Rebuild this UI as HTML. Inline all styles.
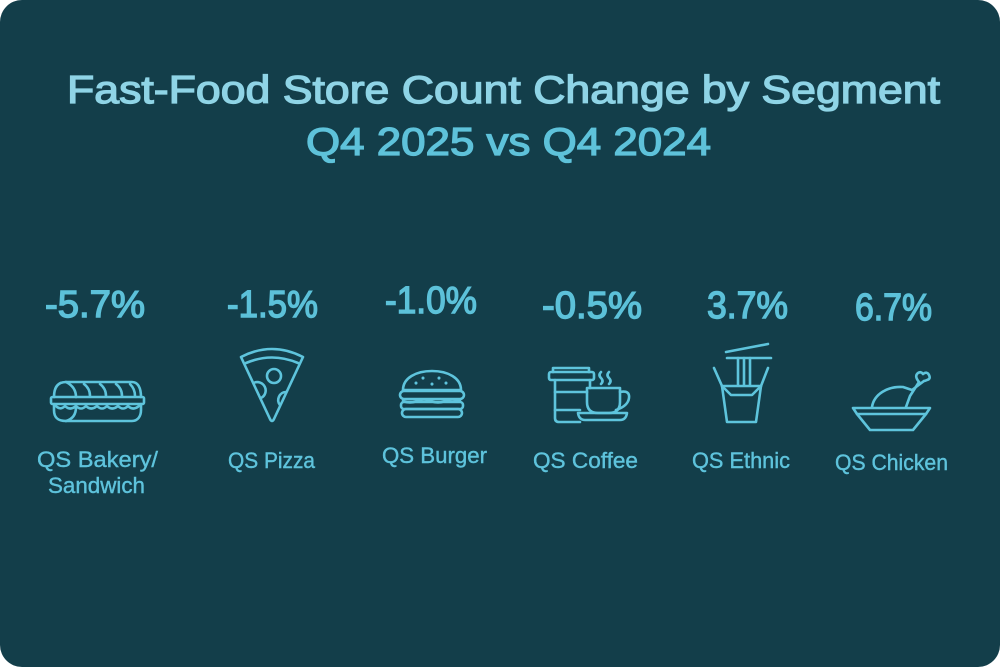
<!DOCTYPE html>
<html>
<head>
<meta charset="utf-8">
<style>
  html,body{margin:0;padding:0;background:#ffffff;}
  svg{display:block;}
  .t{font-family:"Liberation Sans",sans-serif;}
</style>
</head>
<body>
<svg width="1000" height="667" viewBox="0 0 1000 667" xmlns="http://www.w3.org/2000/svg">
  <rect x="0" y="0" width="1000" height="667" fill="#ffffff"/>
  <rect x="0" y="0" width="1000" height="667" rx="22" ry="22" fill="#133e4a"/>

  <!-- Title -->
  <text class="t" x="67" y="103" font-size="39" fill="#8fd4e6" stroke="#8fd4e6" stroke-width="1.3" textLength="873" lengthAdjust="spacingAndGlyphs">Fast-Food Store Count Change by Segment</text>
  <text class="t" x="306" y="155" font-size="39" fill="#5ec2da" stroke="#5ec2da" stroke-width="1.3" textLength="405" lengthAdjust="spacingAndGlyphs">Q4 2025 vs Q4 2024</text>

  <!-- Percentages -->
  <g class="t" font-size="38" fill="#5cc1d9" stroke="#5cc1d9" stroke-width="1.4">
    <text x="45" y="317" textLength="100" lengthAdjust="spacingAndGlyphs">-5.7%</text>
    <text x="227" y="317" textLength="91" lengthAdjust="spacingAndGlyphs">-1.5%</text>
    <text x="385" y="313" textLength="92" lengthAdjust="spacingAndGlyphs">-1.0%</text>
    <text x="542" y="318" textLength="100" lengthAdjust="spacingAndGlyphs">-0.5%</text>
    <text x="707" y="318" textLength="81" lengthAdjust="spacingAndGlyphs">3.7%</text>
    <text x="855" y="320" textLength="77" lengthAdjust="spacingAndGlyphs">6.7%</text>
  </g>

  <!-- Labels -->
  <g class="t" font-size="22" fill="#5ec3dc" stroke="#5ec3dc" stroke-width="0.4">
    <text x="37" y="467" textLength="121" lengthAdjust="spacingAndGlyphs">QS Bakery/</text>
    <text x="48" y="493" textLength="97" lengthAdjust="spacingAndGlyphs">Sandwich</text>
    <text x="228" y="468" textLength="87" lengthAdjust="spacingAndGlyphs">QS Pizza</text>
    <text x="382" y="463" textLength="105" lengthAdjust="spacingAndGlyphs">QS Burger</text>
    <text x="533" y="468" textLength="105" lengthAdjust="spacingAndGlyphs">QS Coffee</text>
    <text x="692" y="468" textLength="98" lengthAdjust="spacingAndGlyphs">QS Ethnic</text>
    <text x="835" y="470" textLength="113" lengthAdjust="spacingAndGlyphs">QS Chicken</text>
  </g>

  <!-- Icons -->
  <g fill="none" stroke="#5ec4dc" stroke-width="2.6" stroke-linecap="round" stroke-linejoin="round">
    <!-- Sandwich -->
    <path d="M54,397 C54,387 58,382 66,382 L132,382 C138,382 141,388 141,397"/>
    <path d="M66,382 C74,386 76,392 76,397"/>
    <path d="M84,384 C88,387 90,391 90,396"/>
    <path d="M100,384 C104,387 106,391 106,396"/>
    <path d="M116,384 C120,387 122,391 122,396"/>
    <path d="M130,384 C133,387 135,391 135,396"/>
    <rect x="51" y="397" width="93" height="7" rx="1.5"/>
    <path d="M55,405 Q60,411 65,406 Q70,411 76,406 Q81,411 86,406 Q91,411 97,406 Q102,411 107,406 Q112,411 118,406 Q123,411 128,406 Q133,411 139,406"/>
    <path d="M54,404 L54,410 C54,418 58,421 66,421 L132,421 C138,421 141,416 141,410 L141,404"/>
    <path d="M76,407 C76,414 73,419 66,421"/>

    <!-- Pizza -->
    <path d="M241,357 L270,419 Q272,423 274,419 L303,357 Q272,341 241,357 Z"/>
    <path d="M246,363 Q272,352 298,363"/>
    <circle cx="274" cy="376" r="7"/>
    <path d="M253.6,383 A8,8 0 0 1 261,398"/>
    <path d="M286,392 A8,8 0 0 0 280,405"/>

    <!-- Burger -->
    <path d="M403,390 C403,378 416,371 432,371 C448,371 461,378 461,390 Z"/>
    <rect x="400" y="391" width="64" height="8" rx="4"/>
    <path d="M403,401 Q410,404 417,401 Q424,398 431,401 Q438,404 445,401 Q452,398 460,401"/>
    <rect x="401" y="402" width="62" height="7" rx="3"/>
    <rect x="402" y="409" width="60" height="8" rx="4"/>
    <g stroke-width="3">
      <path d="M416,383 l0,0.1"/><path d="M423,378 l0,0.1"/><path d="M432,384 l0,0.1"/><path d="M439,378 l0,0.1"/><path d="M446,383 l0,0.1"/>
    </g>

    <!-- Coffee -->
    <path d="M553,372 L553,368 L589,368 L589,372"/>
    <rect x="549" y="372" width="45" height="8" rx="2"/>
    <path d="M555,380 L555,418 Q555,422 559,422 L580,422"/>
    <path d="M590,380 L590,388"/>
    <path d="M555,392 L587,392"/>
    <path d="M555,410 L580,410"/>
    <path d="M587,388 L620,388 L620,402 Q620,413 609,413 L598,413 Q587,413 587,402 Z"/>
    <path d="M620,392 Q630,390 629,398 Q628,406 616,410"/>
    <path d="M578,413 L627,413 Q626,420 620,420 L585,420 Q579,420 578,413 Z"/>
    <path d="M601,372 Q598,375 601,378 Q604,381 601,384"/>
    <path d="M609,372 Q606,375 609,378 Q612,381 609,384"/>

    <!-- Noodles box -->
    <path d="M726,352 L768,344"/>
    <path d="M727,358 L771,358"/>
    <path d="M738,358 L738,385 M744,358 L744,385 M750,358 L750,385"/>
    <path d="M714,368 L722,386 L727,422 L756,422 L761,386 L768,368"/>
    <path d="M722,386 L761,386"/>
    <path d="M722,386 L731,395 L752,395 L761,386"/>

    <!-- Chicken -->
    <path d="M853,408 L930,408 L926,414 L857,414 Z"/>
    <path d="M857,414 L870,430 L913,430 L926,414"/>
    <path d="M872,407 C874,394 888,386 903,387 L912,390"/>
    <path d="M906,407 L910,396 L919,382"/>
    <path d="M912,390 L924,381"/>
    <path d="M919,382 Q914,376 918,373 Q921,371 923,374 Q927,371 929,375 Q931,379 927,380 Q925,381 924,381"/>
  </g>
</svg>
</body>
</html>
